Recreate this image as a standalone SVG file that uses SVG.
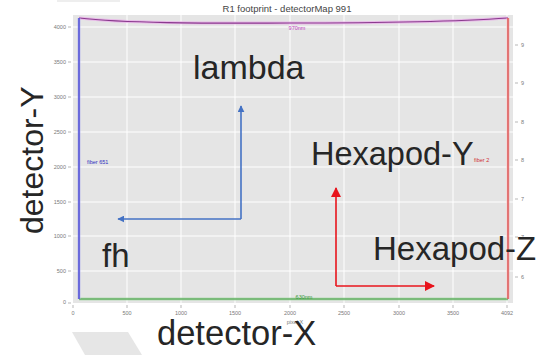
<svg xmlns="http://www.w3.org/2000/svg" width="537" height="355" viewBox="0 0 537 355">
  <defs>
    <style>
      .tick { font-family: "Liberation Sans", Arial, sans-serif; font-size: 5.5px; fill: #7a7a7a; }
      .big { font-family: "Liberation Sans", Arial, sans-serif; fill: #262626; }
      .grid { stroke: #ffffff; stroke-width: 1; }
      .tickmark { stroke: #9a9a9a; stroke-width: 0.7; }
      .small { font-family: "Liberation Sans", Arial, sans-serif; font-size: 5.5px; }
    </style>
    <marker id="arrowBlue" viewBox="0 0 10 10" refX="9" refY="5" markerWidth="7" markerHeight="7" markerUnits="userSpaceOnUse" orient="auto">
      <path d="M0,0 L10,5 L0,10 Z" fill="#4472c4"/>
    </marker>
    <marker id="arrowRed" viewBox="0 0 10 10" refX="9" refY="5" markerWidth="10" markerHeight="10" markerUnits="userSpaceOnUse" orient="auto">
      <path d="M0,0 L10,5 L0,10 Z" fill="#e8141c"/>
    </marker>
  </defs>

  <rect width="537" height="355" fill="#ffffff"/>
  <rect x="57" y="0" width="63" height="2" fill="#eeeeee"/>

  <!-- plot frame -->
  <g id="plot">
    <text x="287" y="12" text-anchor="middle" font-family="Liberation Sans, Arial, sans-serif" font-size="9.5" fill="#444">R1 footprint - detectorMap 991</text>
    <rect x="73" y="15" width="440" height="288" fill="#e5e5e5"/>
    <!-- grid -->
    <g class="grid">
      <line x1="127" y1="15" x2="127" y2="303"/>
      <line x1="181" y1="15" x2="181" y2="303"/>
      <line x1="235" y1="15" x2="235" y2="303"/>
      <line x1="290" y1="15" x2="290" y2="303"/>
      <line x1="344" y1="15" x2="344" y2="303"/>
      <line x1="399" y1="15" x2="399" y2="303"/>
      <line x1="453" y1="15" x2="453" y2="303"/>
      <line x1="507" y1="15" x2="507" y2="303"/>
      <line x1="73" y1="27" x2="513" y2="27"/>
      <line x1="73" y1="62" x2="513" y2="62"/>
      <line x1="73" y1="97" x2="513" y2="97"/>
      <line x1="73" y1="132" x2="513" y2="132"/>
      <line x1="73" y1="167" x2="513" y2="167"/>
      <line x1="73" y1="202" x2="513" y2="202"/>
      <line x1="73" y1="236" x2="513" y2="236"/>
      <line x1="73" y1="271" x2="513" y2="271"/>
    </g>
    <!-- left axis -->
    <g class="tickmark">
      <line x1="68" y1="27" x2="71" y2="27"/>
      <line x1="68" y1="62" x2="71" y2="62"/>
      <line x1="68" y1="97" x2="71" y2="97"/>
      <line x1="68" y1="132" x2="71" y2="132"/>
      <line x1="68" y1="167" x2="71" y2="167"/>
      <line x1="68" y1="202" x2="71" y2="202"/>
      <line x1="68" y1="236" x2="71" y2="236"/>
      <line x1="68" y1="271" x2="71" y2="271"/>
      <line x1="68" y1="303" x2="71" y2="303"/>
      <line x1="73" y1="305" x2="73" y2="308"/>
      <line x1="127" y1="305" x2="127" y2="308"/>
      <line x1="181" y1="305" x2="181" y2="308"/>
      <line x1="235" y1="305" x2="235" y2="308"/>
      <line x1="290" y1="305" x2="290" y2="308"/>
      <line x1="344" y1="305" x2="344" y2="308"/>
      <line x1="399" y1="305" x2="399" y2="308"/>
      <line x1="453" y1="305" x2="453" y2="308"/>
      <line x1="507" y1="305" x2="507" y2="308"/>
      <line x1="515" y1="45" x2="518" y2="45"/>
      <line x1="515" y1="83" x2="518" y2="83"/>
      <line x1="515" y1="122" x2="518" y2="122"/>
      <line x1="515" y1="160" x2="518" y2="160"/>
      <line x1="515" y1="199" x2="518" y2="199"/>
      <line x1="515" y1="237" x2="518" y2="237"/>
      <line x1="515" y1="277" x2="518" y2="277"/>
    </g>
    <g class="tick" text-anchor="end">
      <text x="66" y="29">4000</text>
      <text x="66" y="64">3500</text>
      <text x="66" y="99">3000</text>
      <text x="66" y="134">2500</text>
      <text x="66" y="169">2000</text>
      <text x="66" y="204">1500</text>
      <text x="66" y="238">1000</text>
      <text x="66" y="273">500</text>
      <text x="66" y="304">0</text>
    </g>
    <g class="tick" text-anchor="middle">
      <text x="73" y="315">0</text>
      <text x="127" y="315">500</text>
      <text x="181" y="315">1000</text>
      <text x="235" y="315">1500</text>
      <text x="290" y="315">2000</text>
      <text x="344" y="315">2500</text>
      <text x="399" y="315">3000</text>
      <text x="453" y="315">3500</text>
      <text x="507" y="315">4092</text>
      <text x="295" y="324">pixel X</text>
    </g>
    <g class="tick">
      <text x="521" y="47">9</text>
      <text x="521" y="85">9</text>
      <text x="521" y="124">8</text>
      <text x="521" y="162">8</text>
      <text x="521" y="201">7</text>
      <text x="521" y="239">7</text>
      <text x="521" y="279">6</text>
    </g>
  </g>

  <!-- footprint outline -->
  <g id="footprint" fill="none">
    <path d="M79,18 C130,24 230,23 290,23 C360,23 450,22 508,18" stroke="#e9a8e9" stroke-width="3" opacity="0.7"/>
    <path d="M79,18 C130,24 230,23 290,23 C360,23 450,22 508,18" stroke="#8a3a8e" stroke-width="1.2"/>
    <line x1="79" y1="299" x2="508" y2="299" stroke="#a8d8a8" stroke-width="3" opacity="0.7"/>
    <line x1="79" y1="299" x2="508" y2="299" stroke="#3a9a3a" stroke-width="1.2"/>
    <line x1="79" y1="18" x2="79" y2="299" stroke="#b0b0f0" stroke-width="3" opacity="0.7"/>
    <line x1="79" y1="18" x2="79" y2="299" stroke="#2f2fd0" stroke-width="1.2"/>
    <line x1="508" y1="18" x2="508" y2="299" stroke="#f5b0b0" stroke-width="3" opacity="0.7"/>
    <line x1="508" y1="18" x2="508" y2="299" stroke="#d84040" stroke-width="1.2"/>
    <text class="small" x="297" y="30" text-anchor="middle" fill="#c040c0">970nm</text>
    <text class="small" x="304" y="299" text-anchor="middle" fill="#3a9a3a">630nm</text>
    <text class="small" x="87" y="164" fill="#3030c0">fiber 651</text>
    <text class="small" x="474" y="162" fill="#d03030">fiber 2</text>
  </g>

  <!-- arrows -->
  <g id="connectors" fill="none">
    <path d="M241,219 L118,219" stroke="#4472c4" stroke-width="1.6" marker-end="url(#arrowBlue)"/>
    <path d="M241,219 L241,106" stroke="#4472c4" stroke-width="1.6" marker-end="url(#arrowBlue)"/>
    <path d="M336,286 L336,188" stroke="#e8141c" stroke-width="1.6" marker-end="url(#arrowRed)"/>
    <path d="M336,286 L434,286" stroke="#e8141c" stroke-width="1.6" marker-end="url(#arrowRed)"/>
  </g>

  <!-- axis labels -->
  <g id="label-lambda"><text class="big" x="193" y="79" font-size="34">lambda</text></g>
  <g id="label-fh"><text class="big" x="102" y="267" font-size="33">fh</text></g>
  <g id="label-hexapod-y"><text class="big" x="311" y="165" font-size="32.5">Hexapod-Y</text></g>
  <g id="label-hexapod-z"><text class="big" x="373" y="260" font-size="33">Hexapod-Z</text></g>
  <g id="label-detector-x"><text class="big" x="157" y="345" font-size="34.5">detector-X</text></g>
  <g id="label-detector-y"><text class="big" transform="translate(43,234) rotate(-90)" font-size="32">detector-Y</text></g>

  <!-- light grey shape at lower left -->
  <path d="M72,332 L128,332 L142,355 L85,355 Z" fill="#e6e6e6"/>
</svg>
